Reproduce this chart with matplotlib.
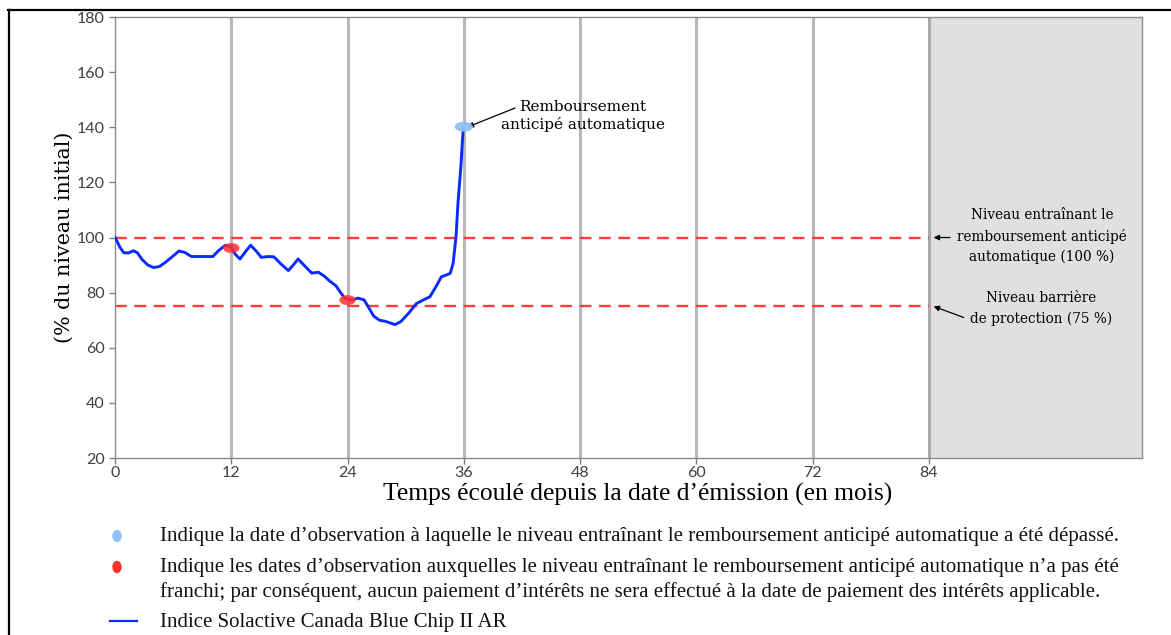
import matplotlib.pyplot as plt
import matplotlib.lines as mlines
from matplotlib.patches import Ellipse
import numpy as np

plt.rcParams['axes.unicode_minus'] = False

# Index path (months since issue, % of initial level)
months = [0, 0.5, 0.9, 1.4, 1.9, 2.3, 2.8, 3.4, 4.0, 4.6, 5.2, 5.9, 6.6, 7.2, 7.9,
          9.0, 10.1, 10.7, 11.4, 12.0, 12.4, 12.9, 13.5, 14.0, 14.6, 15.1, 15.8,
          16.4, 17.1, 17.9, 18.4, 18.9, 19.5, 20.3, 21.0, 21.6, 22.2, 22.8, 23.2,
          23.7, 24.3, 25.1, 25.7, 26.2, 26.7, 27.3, 27.9, 28.4, 28.9, 29.5, 30.3,
          31.1, 31.8, 32.5, 33.1, 33.7, 34.2, 34.6, 34.9, 35.2, 35.4, 35.7, 35.95]
level = [100.2, 96.5, 94.5, 94.4, 95.2, 94.5, 92.0, 90.0, 89.1, 89.5, 91.0, 93.0, 95.1,
         94.6, 93.1, 93.1, 93.1, 95.3, 97.2, 96.5, 94.0, 92.2, 95.0, 97.2, 95.0, 92.8,
         93.1, 93.0, 90.5, 88.0, 90.0, 92.2, 90.0, 87.1, 87.4, 86.0, 84.1, 82.5, 80.5,
         78.0, 77.3, 78.0, 77.4, 74.5, 71.5, 70.0, 69.6, 69.0, 68.4, 69.5, 72.5, 76.0,
         77.3, 78.5, 82.0, 85.8, 86.4, 87.0, 90.6, 100.3, 112.4, 125.7, 140.2]

# Observation dates
missed_x = [12, 24]
missed_y = [96.2, 77.3]
called_x = [36]
called_y = [140.2]

obs_dates = [12, 24, 36, 48, 60, 72, 84]
autocall_level = 100
barrier_level = 75
maturity = 84

fig = plt.figure(figsize=(11.71, 6.35), dpi=100)
ax = fig.add_axes([0.0982, 0.2787, 0.877, 0.6945])

ax.set_xlim(0, 106)
ax.set_ylim(20, 180)

# shaded region after maturity
ax.axvspan(maturity, 106, color='#e0e0e0', zorder=0)

# vertical lines at observation dates
for d in obs_dates:
    c = '#a8a8a8' if d == maturity else '#b8b8b8'
    ax.axvline(d, color=c, lw=2.2, zorder=1)

# autocall and barrier levels
for lvl in [autocall_level, barrier_level]:
    ax.plot([0, maturity], [lvl, lvl], color='#ff3b3b', lw=1.7,
            dashes=(5, 3.2), zorder=2)

ax.plot(months, level, color='#0a2bff', lw=2.1, zorder=3,
        solid_capstyle='round', solid_joinstyle='round')

for x, y in zip(missed_x, missed_y):
    ax.add_patch(Ellipse((x, y), 1.7, 3.6, color='#ff3030', alpha=0.85, zorder=4, lw=0))
for x, y in zip(called_x, called_y):
    ax.add_patch(Ellipse((x, y), 1.9, 3.6, color='#8fc0f7', alpha=0.95, zorder=4, lw=0))

ax.set_xticks([0, 12, 24, 36, 48, 60, 72, 84])
ax.set_yticks(np.arange(20, 181, 20))
ax.tick_params(colors='#808080', labelcolor='#404040', labelsize=11.5, length=4, width=1)
for lab in ax.get_xticklabels() + ax.get_yticklabels():
    lab.set_family('Lato')
ax.tick_params(axis='x', pad=2)
for s in ax.spines.values():
    s.set_color('#8a8a8a')
    s.set_linewidth(1)

ax.set_xlabel('Temps écoulé depuis la date d\u2019émission (en mois)',
              family='Liberation Serif', fontsize=18.4)
ax.xaxis.set_label_coords(0.5086, -0.0816, transform=ax.transAxes)
ax.xaxis.label.set_va('center')
ax.set_ylabel('(% du niveau initial)', family='DejaVu Serif', fontsize=14.9, labelpad=2)

# annotations
ax.text(48.3, 144.1, 'Remboursement\nanticipé automatique', family='DejaVu Serif',
        fontsize=11, ha='center', va='center', linespacing=1.3)
ax.annotate('', xy=(36.4, 140.1), xytext=(41.3, 147.0),
            arrowprops=dict(arrowstyle='-|>', color='black', lw=0.9, mutation_scale=8,
                            shrinkA=0, shrinkB=0))
ax.annotate('', xy=(84.5, 100), xytext=(86.2, 100),
            arrowprops=dict(arrowstyle='-|>', color='black', lw=0.9, mutation_scale=8,
                            shrinkA=0, shrinkB=0))
ax.text(95.7, 100.5, 'Niveau entraînant le\nremboursement anticipé\nautomatique (100 %)',
        family='DejaVu Serif', fontsize=9.8, ha='center', va='center', linespacing=1.55)
ax.annotate('', xy=(84.5, 75), xytext=(87.6, 71),
            arrowprops=dict(arrowstyle='-|>', color='black', lw=0.9, mutation_scale=8,
                            shrinkA=0, shrinkB=0))
ax.text(95.6, 74.3, 'Niveau barrière\nde protection (75 %)',
        family='DejaVu Serif', fontsize=9.8, ha='center', va='center', linespacing=1.55)

# legend below the chart
leg_font = dict(family='Liberation Serif', fontsize=15, color='#111111')
fig.text(160 / 1171, 1 - 536 / 635,
         'Indique la date d\u2019observation à laquelle le niveau entraînant le remboursement '
         'anticipé automatique a été dépassé.', va='center', **leg_font)
fig.text(160 / 1171, 1 - 580 / 635,
         'Indique les dates d\u2019observation auxquelles le niveau entraînant le remboursement '
         'anticipé automatique n\u2019a pas été\nfranchi; par conséquent, aucun paiement '
         'd\u2019intérêts ne sera effectué à la date de paiement des intérêts applicable.',
         va='center', linespacing=1.3, **leg_font)
fig.text(160 / 1171, 1 - 622 / 635, 'Indice Solactive Canada Blue Chip II AR',
         va='center', **leg_font)
fig.add_artist(Ellipse((117 / 1171, 1 - 536 / 635), 8 / 1171, 11 / 635,
                       transform=fig.transFigure, color='#8fc0f7'))
fig.add_artist(Ellipse((117 / 1171, 1 - 567 / 635), 8 / 1171, 11 / 635,
                       transform=fig.transFigure, color='#ff3030'))
fig.add_artist(mlines.Line2D([110 / 1171, 137 / 1171], [1 - 621 / 635, 1 - 621 / 635],
                             transform=fig.transFigure, color='#0a2bff', lw=1.6))

# outer frame
fig.add_artist(mlines.Line2D([8 / 1171, 1], [1 - 10 / 635, 1 - 10 / 635],
                             transform=fig.transFigure, color='black', lw=1.6))
fig.add_artist(mlines.Line2D([9 / 1171, 9 / 1171], [1 - 10 / 635, 0],
                             transform=fig.transFigure, color='black', lw=1.6))

plt.savefig('out.png', dpi=100)
